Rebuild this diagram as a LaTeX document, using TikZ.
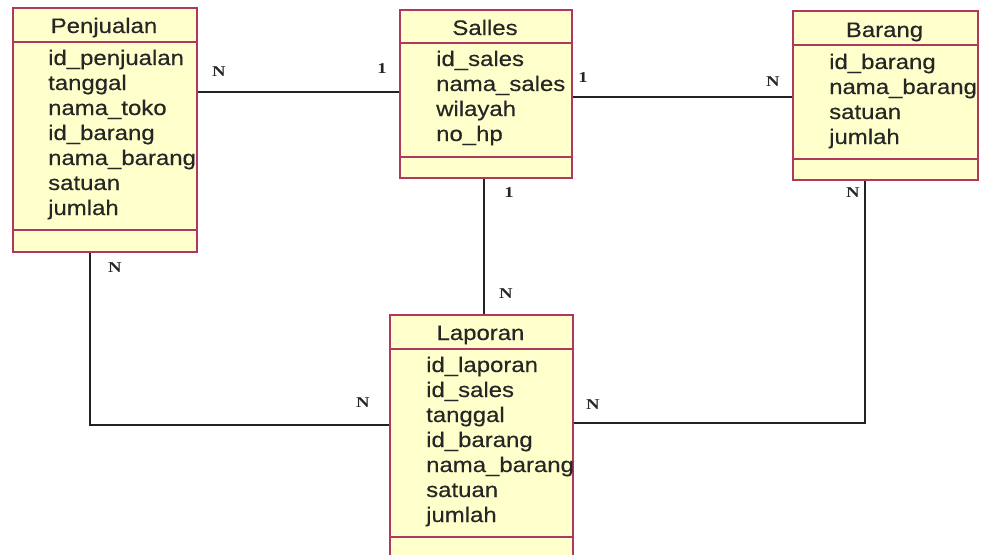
\documentclass[tikz,border=0pt]{standalone}
\usepackage{fontspec}
\newfontfamily\attrfont{Liberation Sans}[FakeStretch=1.14,FakeBold=0.4]
\newfontfamily\lblfont{Liberation Serif}[FakeStretch=1.25]
\definecolor{boxfill}{HTML}{FFFFCC}
\definecolor{boxline}{HTML}{B0385E}
\definecolor{conn}{HTML}{222222}
\begin{document}
\begin{tikzpicture}[x=1pt,y=-1pt,
  entity/.style={draw=boxline, fill=boxfill, line width=1.8pt, rectangle, anchor=north west, inner sep=0pt},
  sep/.style={draw=boxline, line width=1.8pt},
  attr/.style={anchor=base west, inner sep=0pt, font=\attrfont\fontsize{21}{25}\selectfont, text=black!85},
  ttl/.style={anchor=base, inner sep=0pt, font=\attrfont\fontsize{21}{25}\selectfont, text=black!85},
  card/.style={inner sep=0pt, font=\lblfont\bfseries\fontsize{15}{15}\selectfont, text=black!85},
  link/.style={draw=conn, line width=1.5pt}]
\useasboundingbox (0,0) rectangle (984,554);
\fill[white] (0,0) rectangle (984,554);

% Penjualan
\node[entity, minimum width=184pt, minimum height=244pt] (pen) at (12,7) {};
\draw[sep] (12,42) -- (196,42) (12,230) -- (196,230);
\node[ttl] (penT) at (104,33) {Penjualan};
\node[attr] (p1) at (48,65) {id\_penjualan};
\node[attr] (p2) at (48,90) {tanggal};
\node[attr] (p3) at (48,115) {nama\_toko};
\node[attr] (p4) at (48,140) {id\_barang};
\node[attr] (p5) at (48,165) {nama\_barang};
\node[attr] (p6) at (48,190) {satuan};
\node[attr] (p7) at (48,215) {jumlah};

% Salles
\node[entity, minimum width=172pt, minimum height=168pt] (sal) at (399,9) {};
\draw[sep] (399,43) -- (571,43) (399,157) -- (571,157);
\node[ttl] (salT) at (485,35) {Salles};
\node[attr] (s1) at (436,66) {id\_sales};
\node[attr] (s2) at (436,91) {nama\_sales};
\node[attr] (s3) at (436,116) {wilayah};
\node[attr] (s4) at (436,141) {no\_hp};

% Barang
\node[entity, minimum width=185pt, minimum height=169pt] (bar) at (792,10) {};
\draw[sep] (792,45) -- (977,45) (792,159) -- (977,159);
\node[ttl] (barT) at (884.5,37) {Barang};
\node[attr] (b1) at (829,69) {id\_barang};
\node[attr] (b2) at (829,94) {nama\_barang};
\node[attr] (b3) at (829,119) {satuan};
\node[attr] (b4) at (829,144) {jumlah};

% Laporan
\node[entity, minimum width=183pt, minimum height=256pt] (lap) at (389,314) {};
\draw[sep] (389,349) -- (572,349) (389,537) -- (572,537);
\node[ttl] (lapT) at (480.5,340) {Laporan};
\node[attr] (l1) at (426,372) {id\_laporan};
\node[attr] (l2) at (426,397) {id\_sales};
\node[attr] (l3) at (426,422) {tanggal};
\node[attr] (l4) at (426,447) {id\_barang};
\node[attr] (l5) at (426,472) {nama\_barang};
\node[attr] (l6) at (426,497) {satuan};
\node[attr] (l7) at (426,522) {jumlah};

% connector helper coordinates
\coordinate (y1) at (0,92);
\coordinate (y2) at (0,97);
\coordinate (x3) at (484,0);
\coordinate (x4) at (90,0);
\coordinate (y4) at (0,425);
\coordinate (x5) at (865,0);
\coordinate (y5) at (0,423);

\draw[link] (pen.east |- y1) -- (sal.west |- y1);
\draw[link] (sal.east |- y2) -- (bar.west |- y2);
\draw[link] (sal.south -| x3) -- (lap.north -| x3);
\draw[link] (pen.south -| x4) |- (lap.west |- y4);
\draw[link] (bar.south -| x5) |- (lap.east |- y5);

% cardinalities
\node[card] (c1) at (219,72) {N};
\node[card] (c2) at (382,69) {1};
\node[card] (c3) at (583,78) {1};
\node[card] (c4) at (773,82) {N};
\node[card] (c5) at (509,193) {1};
\node[card] (c6) at (506,294) {N};
\node[card] (c7) at (115,268) {N};
\node[card] (c8) at (363,403) {N};
\node[card] (c9) at (593,405) {N};
\node[card] (c10) at (853,193) {N};
\end{tikzpicture}
\end{document}
